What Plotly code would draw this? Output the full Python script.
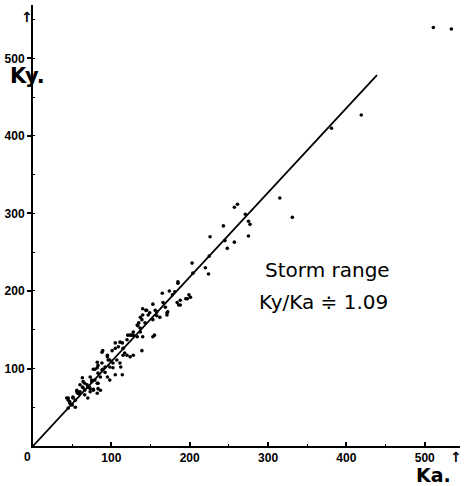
import plotly.graph_objects as go

# ---- data (Ka, Ky) ----
ka = [511, 534, 419, 381,
      315, 331, 257, 261, 271, 275, 277, 243, 226, 245, 257, 275, 248, 225, 220, 224,
      203, 204, 185, 174, 165, 201, 197, 188, 184, 186, 166, 169, 153, 156, 172, 144, 147, 158, 162, 171,
      139, 143, 134, 137, 153, 128, 133, 153, 140,
      185, 199, 195, 188, 178, 181, 158, 140, 171, 126, 155, 139, 121, 120, 111, 114, 105, 109, 128, 115,
      88, 95, 98, 102, 88, 92, 82, 83, 86, 79, 82, 73, 75, 66, 70, 73, 63, 60, 66, 70, 56, 57, 51, 54,
      50, 54, 45, 47, 45, 102, 105, 111, 95, 98, 86, 77, 82, 88,
      140, 145, 149, 137, 133, 135, 128, 124, 137, 105, 101, 115, 117, 120, 124, 89, 95, 96, 107, 112,
      114, 82, 83, 77, 79, 89, 92, 98, 75, 83, 63, 64, 69, 72, 60, 64, 66, 73, 77, 56, 59, 51, 45, 47, 43, 83]
ky = [540, 538, 427, 410,
      320, 295, 308, 312, 299, 290, 286, 284, 270, 265, 263, 271, 255, 245, 230, 222,
      236, 223, 212, 200, 197, 192, 190, 188, 185, 182, 185, 179, 183, 175, 173, 175, 169, 168, 166, 169,
      163, 159, 155, 152, 163, 143, 141, 141, 141,
      210, 195, 190, 182, 195, 199, 173, 169, 172, 143, 143, 123, 143, 137, 134, 133, 133, 128, 117, 117,
      121, 117, 111, 107, 107, 102, 101, 94, 89, 85, 81, 89, 83, 81, 76, 70, 76, 70, 66, 62, 72, 68, 63, 59,
      53, 50, 62, 55, 49, 101, 92, 107, 89, 85, 72, 72, 68, 98,
      177, 175, 172, 166, 156, 159, 147, 143, 147, 126, 123, 126, 120, 117, 115, 123, 115, 111, 111, 102,
      92, 108, 104, 99, 99, 99, 95, 102, 85, 81, 88, 83, 79, 76, 79, 75, 72, 74, 73, 70, 67, 62, 59, 57, 62, 74]

ratio = 1.09
line_ka = [0, 439]
line_ky = [0, 439 * ratio]

x_ticks = [100, 200, 300, 400, 500]
y_ticks = [100, 200, 300, 400, 500]

fig = go.Figure()
fig.add_trace(go.Scatter(x=line_ka, y=line_ky, mode="lines",
                         line=dict(color="black", width=1.8), cliponaxis=False,
                         hoverinfo="skip", showlegend=False))
fig.add_trace(go.Scatter(x=ka, y=ky, mode="markers",
                         marker=dict(color="black", size=3.6), cliponaxis=False,
                         showlegend=False))

tickfont = dict(family="Liberation Sans", size=12, color="black", weight=700)

fig.update_layout(
    width=465, height=486,
    margin=dict(l=33, r=5, t=5, b=40),
    paper_bgcolor="white", plot_bgcolor="white",
    xaxis=dict(range=[0, 545], showgrid=False, zeroline=False,
               showline=True, linecolor="black", linewidth=2,
               ticks="inside", ticklen=4, tickwidth=1.5, tickcolor="black",
               tickvals=x_ticks, ticktext=[str(v) for v in x_ticks],
               tickfont=tickfont, automargin=False,
               minor=dict(ticks="inside", ticklen=2, tickwidth=1, tickcolor="black", dtick=50, tick0=0, showgrid=False)),
    yaxis=dict(range=[0, 569], showgrid=False, zeroline=False,
               showline=True, linecolor="black", linewidth=2,
               ticks="outside", ticklen=4, tickwidth=1.5, tickcolor="black",
               tickvals=y_ticks, ticktext=[str(v) for v in y_ticks],
               tickfont=tickfont, automargin=False,
               minor=dict(ticks="inside", ticklen=2, tickwidth=1, tickcolor="black", dtick=50, tick0=0, showgrid=False)),
)

def ann(text, x, y, size, xanchor="center", yanchor="middle", family="DejaVu Sans", weight="normal"):
    fig.add_annotation(text=text, x=x, y=y, xref="paper", yref="paper", showarrow=False,
                       xanchor=xanchor, yanchor=yanchor,
                       font=dict(family=family, size=size, color="black", weight=weight))

ann("0", -0.014, -0.025, 12, family="Liberation Sans", weight=700)
ann("Ky.", -0.014, 0.839, 21, weight=700)
ann("Ka.", 0.937, -0.066, 19, weight=700)
ann("↑", -0.014, 0.973, 14, weight=700)
ann("↑", 0.99, -0.025, 14, weight=700)
ann("Storm range", 0.539, 0.399, 20, xanchor="left")
ann("Ky/Ka ≑ 1.09", 0.525, 0.327, 20, xanchor="left")

fig.write_html("out.html", config={"displayModeBar": False},
               post_script="document.body.style.margin='0';")
